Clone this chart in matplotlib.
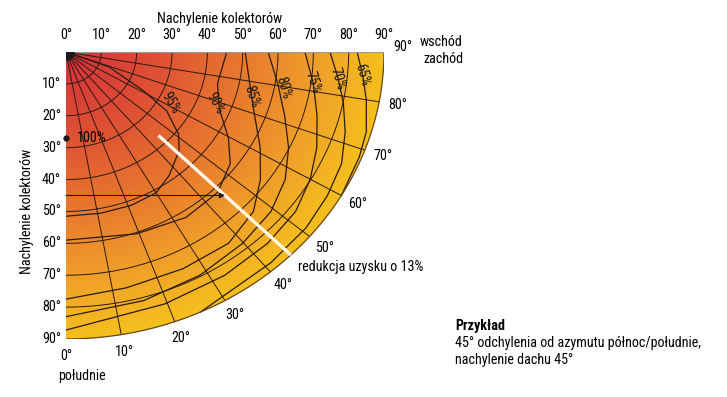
import numpy as np
import matplotlib.pyplot as plt
from matplotlib import font_manager
from matplotlib.colors import LinearSegmentedColormap
from matplotlib.font_manager import FontProperties
from matplotlib.patches import Polygon
from matplotlib.textpath import TextPath

# axis ticks (degrees)
tilt_ticks = [0, 10, 20, 30, 40, 50, 60, 70, 80, 90]
azimuth_ticks = [0, 10, 20, 30, 40, 50, 60, 70, 80, 90]
grid_tilts = [10, 20, 30, 40, 50, 60, 70, 80]
grid_azimuths = [10, 20, 30, 40, 50, 60, 70, 80]

# yield contours: tilt (deg) at which the yield reaches the level, per azimuth (deg)
c95_az = [75, 69, 61, 57, 51, 46, 37, 30, 21, 11, 0]
c95_tilt = [0, 13, 25, 34, 41, 44.5, 48.5, 51, 51.5, 51.5, 51.5]
c90_az = [90, 77, 67.5, 59.6, 53, 44.3, 33.2, 19.3, 0]
c90_tilt = [45.5, 44, 47, 53.3, 58.2, 61.5, 62, 60.4, 59]
c85_az = [90, 79, 69.5, 61.4, 54, 46.7, 37.5, 26, 13, 0]
c85_tilt = [50.7, 53, 57, 62.6, 68, 72.9, 75.6, 75.6, 75.9, 77.5]
c80_az = [90, 80.5, 72, 64.5, 57.2, 49.2, 39.8, 28.5, 15.8, 0]
c80_tilt = [57.2, 60.8, 65.1, 69.8, 73.8, 76.6, 78.1, 79.6, 81, 83]
c75_az = [90, 82, 74.3, 67, 60, 52.4, 43.5, 32.7, 19.5, 0]
c75_tilt = [67.6, 70.7, 73.8, 77.1, 79.8, 82, 82.8, 83.2, 83.8, 87.2]
c70_az = [90, 84, 78.5, 72.4, 65.8, 58.7, 51, 41.3, 25]
c70_tilt = [74.7, 77.4, 80.1, 82.9, 85.5, 86.6, 87.5, 87.9, 90]
c65_az = [90, 85, 80, 73.6, 68.3, 60]
c65_tilt = [82.4, 84.3, 86.3, 88.6, 89.3, 90]

levels = ['95%', '90%', '85%', '80%', '75%', '70%', '65%']
level_az = [c95_az, c90_az, c85_az, c80_az, c75_az, c70_az, c65_az]
level_tilt = [c95_tilt, c90_tilt, c85_tilt, c80_tilt, c75_tilt, c70_tilt, c65_tilt]
label_tilt = [33.5, 45, 54.5, 62.4, 70.5, 77.2, 84.1]
label_az = [61.4, 69.2, 75, 79.6, 82.1, 83.7, 85.1]
label_rot = [-60, -62, -72, -74, -72, -73, -74]

optimum_tilt = 27          # 100 % point, facing south
example_azimuth = 45
example_tilt = 45
white_line_tilt = [37, 90]
reduction = 13

# pick a narrow sans font if one is installed, then size text to the reference width
available = {f.name for f in font_manager.fontManager.ttflist}
family = 'Liberation Sans'
for name in ['Liberation Sans Narrow', 'Roboto Condensed', 'Open Sans Condensed',
             'DejaVu Sans Condensed', 'Liberation Sans']:
    if name in available:
        family = name
        break
plt.rcParams['font.family'] = [family, 'DejaVu Sans']
probe = TextPath((0, 0), 'Nachylenie kolektorów', size=10, prop=FontProperties(family=family))
width_px = probe.get_extents().width * 100 / 72
FS = min(11.0, 10 * 125 / width_px)


def to_xy(tilt, az):
    a = np.radians(az)
    return np.asarray(tilt) * np.sin(a), np.asarray(tilt) * np.cos(a)


fig = plt.figure(figsize=(7.27, 3.97), dpi=100)
ax = fig.add_axes([66 / 727, 58 / 397, 318 / 727, 287 / 397])

# gradient background clipped to the quarter disc
cmap = LinearSegmentedColormap.from_list(
    'yield', [(0, '#d42f3c'), (0.3, '#df5234'), (0.55, '#e8782f'), (0.8, '#f0a129'), (1, '#f5c01d')])
gx, gy = np.meshgrid(np.linspace(0, 90, 400), np.linspace(0, 90, 400))
im = ax.imshow(np.hypot(gx, gy) / 90, extent=[0, 90, 90, 0], origin='upper',
               cmap=cmap, vmin=0, vmax=1, aspect='auto', zorder=0)
arc = np.linspace(0, 90, 200)
ox, oy = to_xy(90, arc)
disc = Polygon(np.column_stack([np.r_[0, ox], np.r_[0, oy]]), closed=True,
               facecolor='none', edgecolor='none')
ax.add_patch(disc)
im.set_clip_path(disc)

line_c = '#2a1a12'
# tilt circles
for t in grid_tilts:
    x, y = to_xy(t, arc)
    ax.plot(x, y, color=line_c, lw=0.7, zorder=2)
# azimuth lines
for a in grid_azimuths:
    x, y = to_xy([0, 90], a)
    ax.plot(x, y, color=line_c, lw=0.7, zorder=2)
# outline
ax.plot(ox, oy, color='#6a4510', lw=0.9, zorder=3)
ax.plot([0, 90], [0, 0], color='#9a9a9a', lw=0.8, zorder=3)

# yield contours
for name, az, tl, lt, la, rot in zip(levels, level_az, level_tilt, label_tilt, label_az, label_rot):
    x, y = to_xy(tl, az)
    ax.plot(x, y, color=line_c, lw=0.9, zorder=2)
    lx, ly = to_xy(lt, la)
    ax.text(lx, ly, name, rotation=rot, ha='center', va='center',
            fontsize=FS, color='#1a1a1a', zorder=4)

# corner blob and 100 % point
ax.plot([0], [0], 'o', color='#1a1a1a', markersize=11, zorder=4)
ax.plot([0], [optimum_tilt], 'o', color='#1a1a1a', markersize=3.5, clip_on=False, zorder=5)
ax.text(3, optimum_tilt, '100%', ha='left', va='center', fontsize=FS, zorder=5)

# example: white azimuth line and arrow
wx, wy = to_xy(white_line_tilt, example_azimuth)
ax.plot(wx, wy, color='#fff6e6', lw=2.4, solid_capstyle='butt', zorder=4)
ax.annotate('', xy=(example_tilt, example_tilt), xytext=(0, example_tilt),
            arrowprops=dict(arrowstyle='-|>', lw=0.8, color='#1a1a1a', mutation_scale=8,
                            shrinkA=0, shrinkB=0), zorder=5)

# tick labels
for t in tilt_ticks:
    ax.text(t, -5.3, f'{t}°', ha='center', va='center', fontsize=FS)
for t in tilt_ticks[1:]:
    ax.text(-1.4, t, f'{t}°', ha='right', va='center', fontsize=FS)
for a in azimuth_ticks:
    lx, ly = to_xy(95.4, a)
    ax.text(lx, ly - (1.5 if a == 90 else 0), f'{a}°', ha='center', va='center', fontsize=FS)

ax.set_xlim(0, 90)
ax.set_ylim(90, 0)
ax.axis('off')

fig.text(220 / 727, 1 - 19 / 397, 'Nachylenie kolektorów', ha='center', va='center', fontsize=FS)
fig.text(27 / 727, 1 - 211 / 397, 'Nachylenie kolektorów', ha='center', va='center',
         rotation=90, fontsize=FS)
fig.text(463 / 727, 1 - 42 / 397, 'wschód', ha='right', va='center', fontsize=FS)
fig.text(463 / 727, 1 - 59 / 397, 'zachód', ha='right', va='center', fontsize=FS)
fig.text(82 / 727, 1 - 376 / 397, 'południe', ha='center', va='center', fontsize=FS)
fig.text(298 / 727, 1 - 267 / 397, f'redukcja uzysku o {reduction}%', ha='left', va='center', fontsize=FS)
fig.text(455 / 727, 1 - 326 / 397, 'Przykład', ha='left', va='center', fontsize=FS, fontweight='bold')
fig.text(455 / 727, 1 - 343 / 397, f'{example_azimuth}° odchylenia od azymutu północ/południe,',
         ha='left', va='center', fontsize=FS)
fig.text(455 / 727, 1 - 360 / 397, f'nachylenie dachu {example_tilt}°', ha='left', va='center', fontsize=FS)

fig.savefig('out.png', dpi=100)
